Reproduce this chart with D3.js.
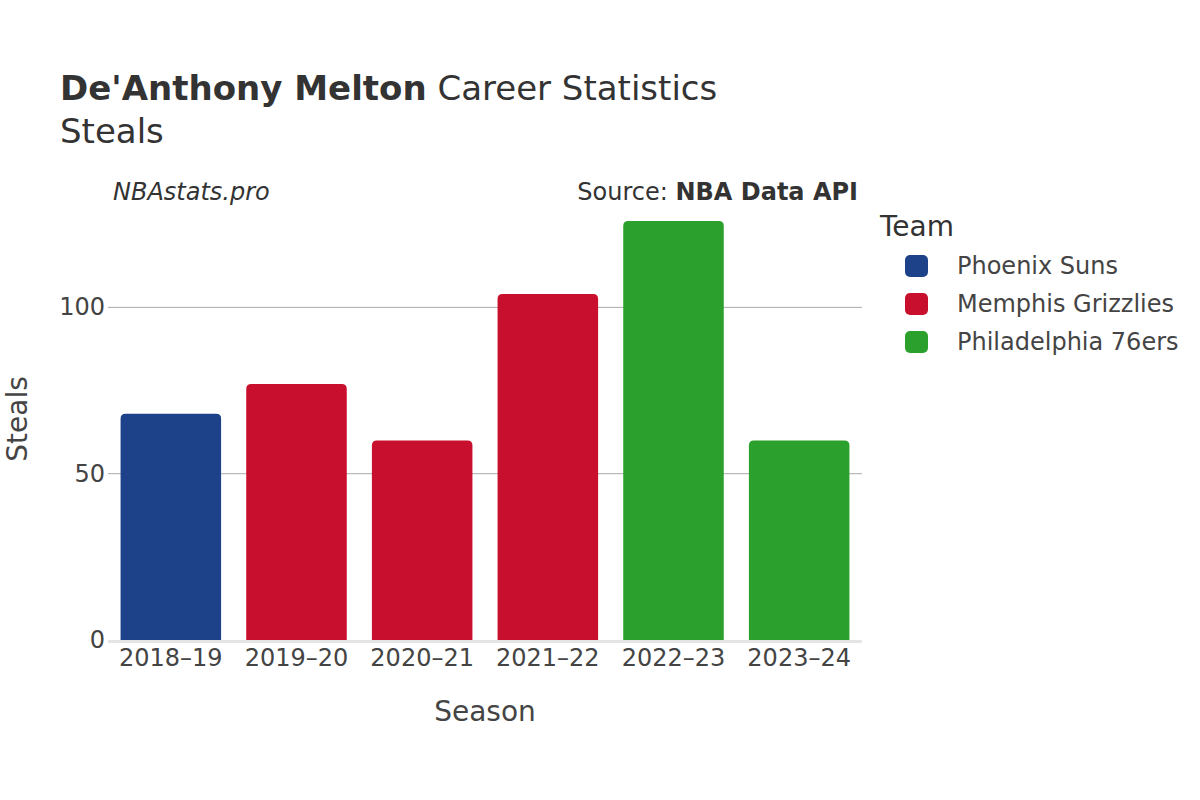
<!DOCTYPE html>
<html><head><meta charset="utf-8">
<script src="https://cdn.jsdelivr.net/npm/d3@7"></script>
<style>body{margin:0;background:#fff}text{font-family:"DejaVu Sans",sans-serif}</style>
</head><body><svg id="c" width="1200" height="800"></svg>
<script>
const seasons=["2018–19","2019–20","2020–21","2021–22","2022–23","2023–24"];
const steals=[68,77,60,104,126,60];
const teams=["Phoenix Suns","Memphis Grizzlies","Memphis Grizzlies","Memphis Grizzlies","Philadelphia 76ers","Philadelphia 76ers"];
const legendTeams=["Phoenix Suns","Memphis Grizzlies","Philadelphia 76ers"];
const teamColors=["#1d428a","#c8102e","#2ca02c"];
const yTicks=[0,50,100];

const svg=d3.select("#c");
const L=108,R=862,T=176,B=640;
const x=d3.scaleBand().domain(seasons).range([L,R]).paddingInner(0.2).paddingOuter(0.1);
const y=d3.scaleLinear().domain([0,139.5]).range([B,T]);
const color=d3.scaleOrdinal().domain(legendTeams).range(teamColors);

svg.append("g").selectAll("line").data(yTicks.filter(d=>d>0)).join("line")
 .attr("x1",L).attr("x2",R).attr("y1",d=>y(d)).attr("y2",d=>y(d)).attr("stroke","#aaa").attr("stroke-width",1);
svg.append("line").attr("x1",L).attr("x2",R).attr("y1",B+1.5).attr("y2",B+1.5).attr("stroke","#e5e5e5").attr("stroke-width",3);

svg.append("g").selectAll("path").data(seasons).join("path")
 .attr("fill",(d,i)=>color(teams[i]))
 .attr("d",(d,i)=>{const x0=x(d),w=x.bandwidth(),y0=y(steals[i]),r=5;
   return `M${x0},${B}V${y0+r}Q${x0},${y0} ${x0+r},${y0}H${x0+w-r}Q${x0+w},${y0} ${x0+w},${y0+r}V${B}Z`;});

svg.append("g").selectAll("text").data(yTicks).join("text")
 .attr("x",L-3).attr("y",d=>y(d)+8).attr("text-anchor","end").attr("font-size",24).attr("fill","#444").text(d=>d);
svg.append("g").selectAll("text").data(seasons).join("text")
 .attr("x",d=>x(d)+x.bandwidth()/2).attr("y",666).attr("text-anchor","middle").attr("font-size",24).attr("fill","#444").text(d=>d);

svg.append("text").attr("x",485).attr("y",721).attr("text-anchor","middle").attr("font-size",28).attr("fill","#444").text("Season");
svg.append("text").attr("transform","translate(27,419) rotate(-90)").attr("text-anchor","middle").attr("font-size",28).attr("fill","#444").text("Steals");

const t=svg.append("text").attr("x",60).attr("y",100).attr("font-size",34).attr("fill","#333");
t.append("tspan").attr("font-weight","bold").text("De'Anthony Melton");
t.append("tspan").text(" Career Statistics");
svg.append("text").attr("x",60).attr("y",143).attr("font-size",34).attr("fill","#333").text("Steals");
svg.append("text").attr("x",113).attr("y",200).attr("font-size",24).attr("font-style","italic").attr("fill","#333").text("NBAstats.pro");
const s=svg.append("text").attr("x",858).attr("y",200).attr("text-anchor","end").attr("font-size",24).attr("fill","#333");
s.append("tspan").text("Source: ");s.append("tspan").attr("font-weight","bold").text("NBA Data API");

svg.append("text").attr("x",880).attr("y",236).attr("font-size",28).attr("fill","#333").text("Team");
const lg=svg.append("g").selectAll("g").data(legendTeams).join("g").attr("transform",(d,i)=>`translate(905,${266+i*38})`);
lg.append("rect").attr("x",0).attr("y",-11).attr("width",23).attr("height",22).attr("rx",5).attr("fill",d=>color(d));
lg.append("text").attr("x",52).attr("y",8).attr("font-size",24).attr("fill","#444").text(d=>d);
</script></body></html>
